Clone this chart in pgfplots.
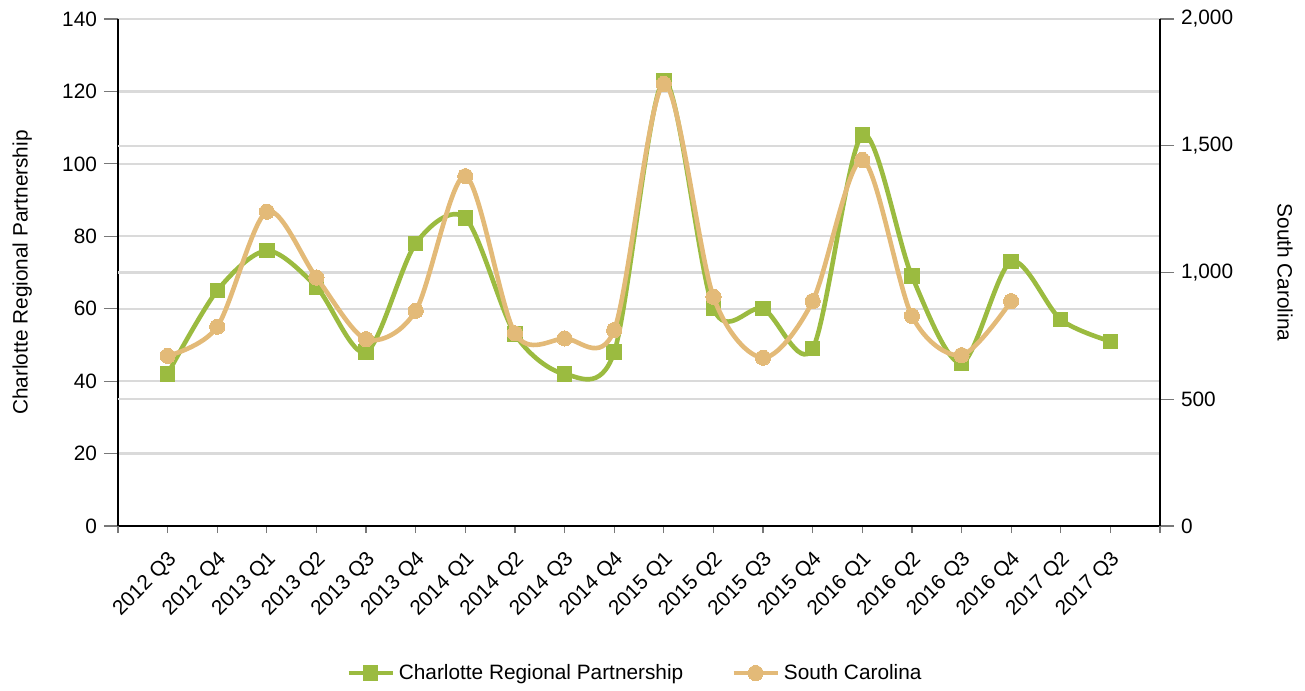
\documentclass[border=0pt]{standalone}
\usepackage{fontspec}
\setmainfont{Liberation Sans}
\usepackage{pgfplots}
\usepackage{pgfplotstable}
\pgfplotsset{compat=1.18}

\definecolor{crpgreen}{RGB}{155,187,64}
\definecolor{scorange}{RGB}{227,186,120}
\definecolor{gridgray}{RGB}{218,218,218}
\definecolor{tickgray}{RGB}{120,120,120}

\pgfplotstableread{
x y
0 42
1 65
2 76
3 66
4 48
5 78
6 85
7 53
8 42
9 48
10 123
11 60
12 60
13 49
14 108
15 69
16 45
17 73
18 57
19 51
}\crp

\pgfplotstableread{
x y
0 671
1 786
2 1240
3 980
4 737
5 849
6 1380
7 760
8 740
9 773
10 1744
11 904
12 664
13 887
14 1444
15 829
16 674
17 887
}\sc

\pgfplotsset{
  common/.style={
    width=521pt, height=253.5pt, scale only axis,
    xmin=-1, xmax=20,
    /pgf/number format/assume math mode=true,
    tick align=outside,
    major tick length=7pt,
    major tick style={tickgray, line width=0.6pt},
    axis line style={line width=1pt, black},
    ticklabel style={font=\fontsize{10.4}{12}\selectfont},
    label style={font=\fontsize{10.4}{12}\selectfont},
  },
  crpline/.style={crpgreen, line width=2.3pt, smooth, mark=square*, mark size=3.6pt,
    mark options={solid, fill=crpgreen, draw=crpgreen, line width=0pt}},
  scline/.style={scorange, line width=2.3pt, smooth, mark=*, mark size=3.8pt,
    mark options={solid, fill=scorange, draw=scorange, line width=0pt}},
}

\begin{document}
\begin{tikzpicture}
\begin{axis}[
  common, name=ax,
  axis x line*=bottom, axis y line*=left,
  ymin=0, ymax=140, ytick={0,20,...,140},
  xtick style={/pgfplots/major tick length=3.5pt},
  ymajorgrids, major grid style={gridgray, line width=1.2pt},
  extra y ticks={35,70,105},
  extra y tick style={major tick length=0pt, yticklabel={}},
  xtick={0,...,19},
  xticklabels={2012 Q3,2012 Q4,2013 Q1,2013 Q2,2013 Q3,2013 Q4,2014 Q1,2014 Q2,2014 Q3,2014 Q4,2015 Q1,2015 Q2,2015 Q3,2015 Q4,2016 Q1,2016 Q2,2016 Q3,2016 Q4,2017 Q2,2017 Q3},
  extra x ticks={-1,20},
  extra x tick style={xticklabel={}, xmajorgrids=false},
  xticklabel style={rotate=45, anchor=north east, inner sep=1pt, yshift=-2pt, xshift=-2.5pt},
  ylabel={Charlotte Regional Partnership},
  ylabel style={at={(axis description cs:-0.092,0.5)}, anchor=center},
]
\addplot[crpline] table[x=x, y=y] {\crp};
\end{axis}
\begin{axis}[
  common,
  axis x line=none, axis y line*=right,
  ymin=0, ymax=2000, ytick={0,500,...,2000},
  /pgf/number format/1000 sep={,},
  ylabel={South Carolina},
  ylabel style={at={(axis description cs:1.12,0.5)}, anchor=center, rotate=180},
  legend columns=2,
  legend style={draw=none, fill=none, at={(axis description cs:0.497,-0.29)}, anchor=center,
    font=\fontsize{10.4}{12}\selectfont,
    /tikz/every even column/.append style={column sep=22pt}},
  legend image code/.code={\draw[#1, mark repeat=2, mark phase=2] plot coordinates {(0pt,0pt) (11pt,0pt) (22pt,0pt)};},
]
\addlegendimage{crpline}
\addlegendentry{Charlotte Regional Partnership}
\addplot[scline] table[x=x, y=y] {\sc};
\addlegendentry{South Carolina}
\end{axis}
\path (ax.south west) ++(-59pt,-81pt) (ax.north east) ++(72.5pt,9.5pt);
\end{tikzpicture}
\end{document}
